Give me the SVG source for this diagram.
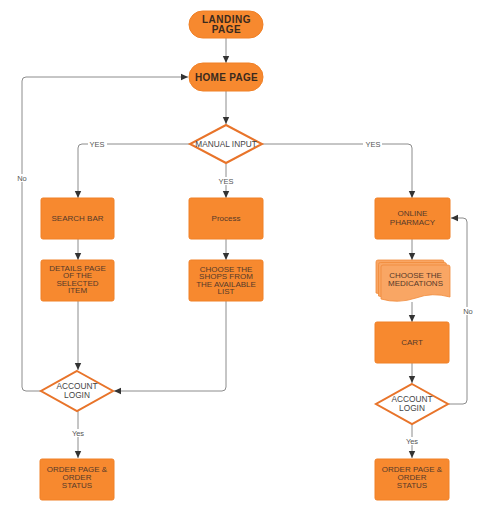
<svg xmlns="http://www.w3.org/2000/svg" width="480" height="508" viewBox="0 0 480 508">
<defs>
<style>
.box{fill:#f7892f;stroke:#f08026;stroke-width:1}
.pill{fill:#f7892f;stroke:#f08026;stroke-width:1}
.dia{fill:#ffffff;stroke:#e8742a;stroke-width:2}
.doc{fill:#f9a664;stroke:#f08a3a;stroke-width:0.8}
.t{font-family:"Liberation Sans",Arial,sans-serif;font-size:8px;fill:#55392a;text-anchor:middle}
.tb{font-family:"Liberation Sans",Arial,sans-serif;font-size:10px;font-weight:bold;fill:#3a2a1e;text-anchor:middle;letter-spacing:0.5px}
.td{font-family:"Liberation Sans",Arial,sans-serif;font-size:8.3px;fill:#444;text-anchor:middle}
.lbl{font-family:"Liberation Sans",Arial,sans-serif;font-size:7.5px;fill:#555;text-anchor:middle}
.c{fill:none;stroke:#8c8c8c;stroke-width:1}
</style>
<marker id="ah" markerWidth="8" markerHeight="8" refX="7" refY="4" orient="auto" markerUnits="userSpaceOnUse">
<path d="M0,0.8 L7,4 L0,7.2 z" fill="#333"/>
</marker>
</defs>

<g id="connectors">
<path class="c" d="M226,38 V63" marker-end="url(#ah)"/>
<path class="c" d="M226,91 V124" marker-end="url(#ah)"/>
<path class="c" d="M190,144 H82 Q78,144 78,148 V198" marker-end="url(#ah)"/>
<path class="c" d="M226,164 V198" marker-end="url(#ah)"/>
<path class="c" d="M262,144 H408 Q412,144 412,148 V198" marker-end="url(#ah)"/>
<path class="c" d="M78,239 V260" marker-end="url(#ah)"/>
<path class="c" d="M226,239 V260" marker-end="url(#ah)"/>
<path class="c" d="M412,239 V260" marker-end="url(#ah)"/>
<path class="c" d="M78,301 V370" marker-end="url(#ah)"/>
<path class="c" d="M226,301 V387 Q226,391 222,391 H114" marker-end="url(#ah)"/>
<path class="c" d="M41,391 H26 Q22,391 22,387 V81 Q22,77 26,77 H188" marker-end="url(#ah)"/>
<path class="c" d="M78,411 V458" marker-end="url(#ah)"/>
<path class="c" d="M412,302 V322" marker-end="url(#ah)"/>
<path class="c" d="M412,363 V383" marker-end="url(#ah)"/>
<path class="c" d="M412,424 V458" marker-end="url(#ah)"/>
<path class="c" d="M449,404 H463 Q467,404 467,400 V222 Q467,218 463,218 H451" marker-end="url(#ah)"/>
<rect x="88" y="140" width="19" height="8" fill="#fff"/>
<text class="lbl" x="97" y="147">YES</text>
<rect x="363" y="140" width="19" height="8" fill="#fff"/>
<text class="lbl" x="373" y="147">YES</text>
<rect x="216" y="177" width="20" height="8" fill="#fff"/>
<text class="lbl" x="226" y="184">YES</text>
<rect x="15" y="174" width="14" height="8" fill="#fff"/>
<text class="lbl" x="22" y="181">No</text>
<rect x="69" y="429" width="17" height="8" fill="#fff"/>
<text class="lbl" x="78" y="436">Yes</text>
<rect x="403" y="437" width="17" height="8" fill="#fff"/>
<text class="lbl" x="412" y="444">Yes</text>
<rect x="460" y="307" width="15" height="8" fill="#fff"/>
<text class="lbl" x="468" y="314">No</text>
</g>

<g id="landing">
<rect class="pill" x="189" y="11" width="74" height="27" rx="13.5"/>
<text class="tb" x="226.5" y="23">LANDING</text>
<text class="tb" x="226.5" y="33">PAGE</text>
</g>

<g id="home">
<rect class="pill" x="189" y="63" width="74" height="28" rx="14"/>
<text class="tb" x="226.5" y="80.5" style="letter-spacing:0.3px">HOME PAGE</text>
</g>

<g id="manual-input">
<path class="dia" d="M226,125 L262,144 L226,163 L190,144 Z"/>
<text class="td" x="226" y="147">MANUAL INPUT</text>
</g>

<g id="search-bar">
<rect class="box" x="41" y="198" width="73" height="41" rx="2"/>
<text class="t" x="77.5" y="221">SEARCH BAR</text>
</g>

<g id="process">
<rect class="box" x="189" y="198" width="74" height="41" rx="2"/>
<text class="t" x="226" y="221">Process</text>
</g>

<g id="online-pharmacy">
<rect class="box" x="375" y="198" width="75" height="41" rx="2"/>
<text class="t" x="412.5" y="216">ONLINE</text>
<text class="t" x="412.5" y="225">PHARMACY</text>
</g>

<g id="details-page">
<rect class="box" x="41" y="260" width="73" height="41" rx="2"/>
<text class="t" x="77.5" y="270.5">DETAILS PAGE</text>
<text class="t" x="77.5" y="278">OF THE</text>
<text class="t" x="77.5" y="285.5">SELECTED</text>
<text class="t" x="77.5" y="293">ITEM</text>
</g>

<g id="choose-shops">
<rect class="box" x="189" y="260" width="74" height="41" rx="2"/>
<text class="t" x="226" y="271.5">CHOOSE THE</text>
<text class="t" x="226" y="279">SHOPS FROM</text>
<text class="t" x="226" y="286.5">THE AVAILABLE</text>
<text class="t" x="226" y="294">LIST</text>
</g>

<g id="choose-medications">
<path class="doc" d="M376,262 Q376,260 378,260 H442 Q444,260 444,262 V291 Q426,286 410,292 Q392,298 376,293 Z"/>
<path class="doc" d="M378.5,264.5 Q378.5,262.5 380.5,262.5 H444.5 Q446.5,262.5 446.5,264.5 V294 Q428.5,289 412.5,295 Q394.5,301 378.5,296 Z"/>
<path class="doc" d="M381,267 Q381,265 383,265 H448 Q450,265 450,267 V297 Q432,292 416,298 Q398,304 381,299 Z"/>
<text class="t" x="415.5" y="278">CHOOSE THE</text>
<text class="t" x="415.5" y="286">MEDICATIONS</text>
</g>

<g id="cart">
<rect class="box" x="375" y="322" width="74" height="41" rx="2"/>
<text class="t" x="412" y="345">CART</text>
</g>

<g id="account-login-left">
<path class="dia" d="M77,371 L113,391 L77,411 L41,391 Z"/>
<text class="td" x="77" y="389">ACCOUNT</text>
<text class="td" x="77" y="397.5">LOGIN</text>
</g>

<g id="account-login-right">
<path class="dia" d="M412,384 L448,404 L412,424 L376,404 Z"/>
<text class="td" x="412" y="402">ACCOUNT</text>
<text class="td" x="412" y="410.5">LOGIN</text>
</g>

<g id="order-left">
<rect class="box" x="40" y="459" width="74" height="41" rx="2"/>
<text class="t" x="77" y="472">ORDER PAGE &amp;</text>
<text class="t" x="77" y="480">ORDER</text>
<text class="t" x="77" y="488">STATUS</text>
</g>

<g id="order-right">
<rect class="box" x="375" y="459" width="74" height="41" rx="2"/>
<text class="t" x="412" y="472">ORDER PAGE &amp;</text>
<text class="t" x="412" y="480">ORDER</text>
<text class="t" x="412" y="488">STATUS</text>
</g>
</svg>
